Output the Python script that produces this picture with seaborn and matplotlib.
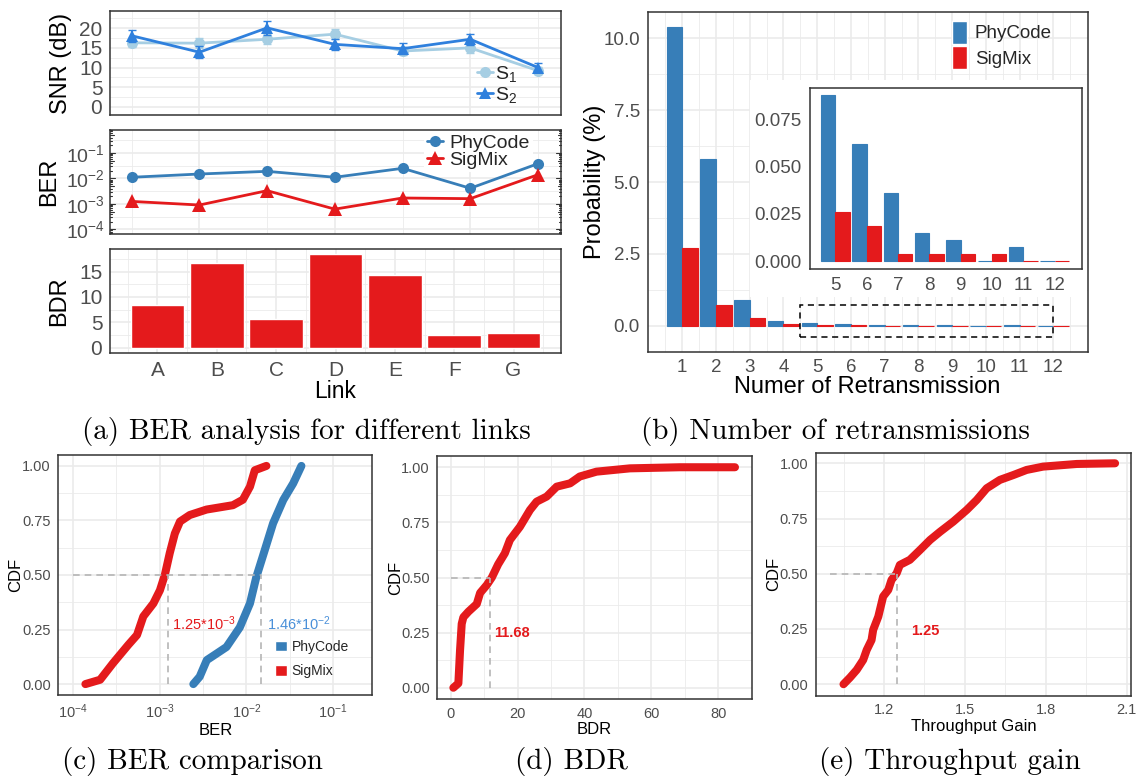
import numpy as np
import pandas as pd
import matplotlib
matplotlib.use("Agg")
import matplotlib.pyplot as plt
import seaborn as sns
from matplotlib.patches import Patch, Rectangle
from matplotlib.lines import Line2D
from matplotlib.ticker import FixedLocator, FormatStrFormatter, NullFormatter

# ---------------- data ----------------
links = ["A", "B", "C", "D", "E", "F", "G"]
snr_s1 = [16.3, 16.2, 17.2, 18.5, 14.2, 15.0, 9.2]
snr_s1_err = [1.2, 1.2, 1.3, 1.2, 1.0, 1.3, 0.9]
snr_s2 = [18.1, 13.9, 20.1, 15.9, 14.8, 17.2, 10.0]
snr_s2_err = [1.5, 1.5, 1.7, 1.4, 1.4, 1.4, 1.2]
ber_link_phycode = [0.0111, 0.0149, 0.019, 0.0111, 0.025, 0.0041, 0.038]
ber_link_sigmix = [0.00125, 0.0009, 0.0033, 0.00062, 0.0017, 0.0016, 0.014]
bdr_link = [8.4, 16.7, 5.7, 18.5, 14.3, 2.5, 2.9]

retrans = [1, 2, 3, 4, 5, 6, 7, 8, 9, 10, 11, 12]
prob_phycode = [10.39, 5.79, 0.89, 0.17, 0.088, 0.062, 0.036, 0.015, 0.011, 0.0, 0.0075, 0.0]
prob_sigmix = [2.70, 0.72, 0.28, 0.06, 0.026, 0.0185, 0.0037, 0.0037, 0.0037, 0.0037, 0.0, 0.0]

ber_sigmix_x = [1.4e-4, 2.07e-4, 2.9e-4, 4.37e-4, 5.5e-4, 6.5e-4, 8.5e-4, 1.01e-3, 1.15e-3,
                1.31e-3, 1.5e-3, 1.72e-3, 2.23e-3, 3.48e-3, 7.0e-3, 9.1e-3, 1.1e-2, 1.25e-2, 1.7e-2]
ber_sigmix_cdf = [0.0, 0.02, 0.095, 0.18, 0.225, 0.31, 0.37, 0.43, 0.5,
                  0.6, 0.69, 0.745, 0.775, 0.8, 0.82, 0.845, 0.905, 0.98, 1.0]
ber_phycode_x = [2.45e-3, 2.9e-3, 3.5e-3, 4.55e-3, 5.9e-3, 8.4e-3, 1.1e-2, 1.3e-2, 1.63e-2,
                 2.03e-2, 2.66e-2, 3.46e-2, 4.3e-2]
ber_phycode_cdf = [0.0, 0.034, 0.11, 0.14, 0.17, 0.26, 0.37, 0.49, 0.615, 0.737, 0.844, 0.92, 1.0]
ber_medians = [1.46e-2, 1.25e-3]          # PhyCode, SigMix

bdr_x = [0.8, 2.3, 2.8, 3.3, 3.8, 5.3, 7.8, 8.8, 10.8, 12.3, 14.2, 16.2, 17.7, 20.7, 23.7,
         25.7, 28.7, 31.7, 35.7, 38.6, 43.6, 53.6, 68.5, 85.0]
bdr_cdf = [0.0, 0.02, 0.17, 0.29, 0.32, 0.345, 0.38, 0.43, 0.466, 0.50, 0.56, 0.61, 0.67, 0.73,
           0.806, 0.844, 0.867, 0.912, 0.927, 0.958, 0.98, 0.995, 1.0, 1.0]
bdr_median = 11.68

gain_x = [1.05, 1.074, 1.099, 1.123, 1.136, 1.154, 1.16, 1.179, 1.197, 1.216, 1.228, 1.247,
          1.259, 1.296, 1.334, 1.371, 1.408, 1.457, 1.507, 1.544, 1.581, 1.63, 1.68, 1.729,
          1.79, 1.915, 2.057]
gain_cdf = [0.0, 0.03, 0.065, 0.11, 0.155, 0.2, 0.246, 0.306, 0.397, 0.427, 0.472, 0.502,
            0.54, 0.563, 0.608, 0.653, 0.69, 0.736, 0.789, 0.834, 0.887, 0.925, 0.947, 0.97,
            0.985, 0.997, 1.0]
gain_median = 1.25

# ---------------- style ----------------
sns.set_style("white")
plt.rcParams["font.family"] = ["Liberation Sans", "DejaVu Sans"]
plt.rcParams["mathtext.fontset"] = "custom"
plt.rcParams["mathtext.rm"] = "Liberation Sans"
plt.rcParams["mathtext.it"] = "Liberation Sans:italic"
plt.rcParams["mathtext.bf"] = "Liberation Sans:bold"

BLUE = "#377eb8"
RED = "#e41a1c"
S1C = "#a6cee3"
S2C = "#2f80dd"
GRID = "#ebebeb"
GUIDE = "#b5b5b5"

W, H = 1140, 779
fig = plt.figure(figsize=(W / 100, H / 100), dpi=100)


def px_axes(l, t, r, b, **kw):
    return fig.add_axes([l / W, 1 - b / H, (r - l) / W, (b - t) / H], **kw)


def gg(ax, tsize, grid=True):
    ax.set_facecolor("white")
    for s in ax.spines.values():
        s.set_visible(True)
        s.set_color("#333333")
        s.set_linewidth(1.1)
    ax.tick_params(which="major", length=3.5, width=0.9, color="#333333",
                   labelcolor="#4d4d4d", labelsize=tsize, pad=2)
    ax.tick_params(which="minor", length=0)
    if grid:
        ax.grid(True, which="major", color=GRID, lw=1.2)
        ax.grid(True, which="minor", color=GRID, lw=0.6)
    else:
        ax.grid(False)
    ax.set_axisbelow(True)


xi = np.arange(1, len(links) + 1)

# ================= (a) SNR =================
ax1 = px_axes(110, 11, 561, 115)
sns.lineplot(x=xi, y=snr_s1, color=S1C, lw=2, marker="o", markersize=8,
             markeredgewidth=0, ax=ax1)
ax1.errorbar(xi, snr_s1, yerr=snr_s1_err, fmt="none", ecolor=S1C, elinewidth=1.5, capsize=3)
sns.lineplot(x=xi, y=snr_s2, color=S2C, lw=2, marker="^", markersize=9,
             markeredgewidth=0, ax=ax1)
ax1.errorbar(xi, snr_s2, yerr=snr_s2_err, fmt="none", ecolor=S2C, elinewidth=1.5, capsize=3)
gg(ax1, 15)
ax1.set_xlim(0.68, 7.34)
ax1.set_ylim(-2.1, 24.4)
ax1.xaxis.set_major_locator(FixedLocator([2, 4, 6]))
ax1.xaxis.set_minor_locator(FixedLocator([1, 3, 5, 7]))
ax1.yaxis.set_major_locator(FixedLocator([0, 5, 10, 15, 20]))
ax1.yaxis.set_minor_locator(FixedLocator([2.5, 7.5, 12.5, 17.5, 22.5]))
ax1.tick_params(labelbottom=False)
ax1.set_xlabel("")
ax1.set_ylabel("SNR (dB)", fontsize=17, color="black")
ax1.yaxis.set_label_coords(-0.085, 0.5)
h1 = [Line2D([], [], color=S1C, marker="o", lw=2, ms=8, mew=0),
      Line2D([], [], color=S2C, marker="^", lw=2, ms=9, mew=0)]
ax1.legend(h1, ["S$_1$", "S$_2$"], loc="upper left", bbox_to_anchor=(477 / W, 1 - 64 / H),
           bbox_transform=fig.transFigure, frameon=False, fontsize=14, handlelength=0.8,
           handletextpad=0.15, labelspacing=0.05, borderpad=0, borderaxespad=0)

# ================= (a) BER =================
ax2 = px_axes(110, 130, 561, 234)
sns.lineplot(x=xi, y=ber_link_phycode, color=BLUE, lw=2, marker="o", markersize=8,
             markeredgewidth=0, ax=ax2)
sns.lineplot(x=xi, y=ber_link_sigmix, color=RED, lw=2, marker="^", markersize=9.5,
             markeredgewidth=0, ax=ax2)
ax2.set_yscale("log")
gg(ax2, 14)
ax2.set_xlim(0.68, 7.34)
ax2.set_ylim(10 ** -4.185, 10 ** -0.096)
ax2.xaxis.set_major_locator(FixedLocator([2, 4, 6]))
ax2.xaxis.set_minor_locator(FixedLocator([1, 3, 5, 7]))
ax2.yaxis.set_major_locator(FixedLocator([1e-4, 1e-3, 1e-2, 1e-1]))
ax2.yaxis.set_minor_locator(FixedLocator([10 ** -3.5, 10 ** -2.5, 10 ** -1.5, 10 ** -0.5]))
ax2.yaxis.set_minor_formatter(NullFormatter())
ax2.tick_params(labelbottom=False)
ax2.tick_params(axis="y", pad=0)
ax2.set_xlabel("")
ax2.set_ylabel("BER", fontsize=17, color="black")
ax2.yaxis.set_label_coords(-0.111, 0.5)
tr = ax2.get_yaxis_transform()
for k in range(-5, 1):
    for m in range(1, 10):
        yv = m * 10.0 ** k
        if not (10 ** -4.185 < yv < 10 ** -0.096):
            continue
        L = (5.0 if m == 1 else (3.5 if m == 5 else 2.2)) / 451
        ax2.plot([0, L], [yv, yv], transform=tr, color="#333333", lw=0.8, clip_on=False)
        ax2.plot([1 - L, 1], [yv, yv], transform=tr, color="#333333", lw=0.8, clip_on=False)
h2 = [Line2D([], [], color=BLUE, marker="o", lw=2, ms=8, mew=0),
      Line2D([], [], color=RED, marker="^", lw=2, ms=9.5, mew=0)]
leg2 = ax2.legend(h2, ["PhyCode", "SigMix"], loc="upper left",
                  bbox_to_anchor=(424 / W, 1 - 131 / H), bbox_transform=fig.transFigure,
                  frameon=True, fontsize=14, handlelength=0.85, handletextpad=0.3,
                  labelspacing=0.0, borderpad=0.15, borderaxespad=0, fancybox=False)
leg2.get_frame().set_facecolor("white")
leg2.get_frame().set_edgecolor("none")
leg2.get_frame().set_alpha(1)
leg2.set_zorder(1.8)

# ================= (a) BDR =================
ax3 = px_axes(110, 249, 561, 353)
sns.barplot(x=links, y=bdr_link, color=RED, saturation=1, width=0.9, errorbar=None, ax=ax3)
gg(ax3, 15)
ax3.set_xlim(-0.8, 6.8)
ax3.set_ylim(-1.05, 19.47)
ax3.xaxis.set_minor_locator(FixedLocator(np.arange(-0.5, 7, 1)))
ax3.yaxis.set_major_locator(FixedLocator([0, 5, 10, 15]))
ax3.yaxis.set_minor_locator(FixedLocator([2.5, 7.5, 12.5, 17.5]))
ax3.set_xlabel("Link", fontsize=16.5, color="black", labelpad=0)
ax3.set_ylabel("BDR", fontsize=17, color="black")
ax3.yaxis.set_label_coords(-0.089, 0.5)

# ================= (b) retransmissions =================
df_b = pd.DataFrame({
    "retrans": retrans * 2,
    "prob": prob_phycode + prob_sigmix,
    "method": ["PhyCode"] * len(retrans) + ["SigMix"] * len(retrans),
})
pal = {"PhyCode": BLUE, "SigMix": RED}
axb = px_axes(647.5, 11.7, 1087.5, 351.7)
sns.barplot(data=df_b, x="retrans", y="prob", hue="method", hue_order=["PhyCode", "SigMix"],
            palette=pal, saturation=1, width=0.92, errorbar=None, legend=False, ax=axb)
for p in axb.patches:
    p.set_edgecolor(p.get_facecolor())
    p.set_linewidth(0.8)
gg(axb, 13.5)
axb.set_xlim(-1.03, 12.01)
axb.set_ylim(-0.905, 10.93)
axb.xaxis.set_minor_locator(FixedLocator(np.arange(-0.5, 12, 1)))
axb.yaxis.set_major_locator(FixedLocator([0, 2.5, 5, 7.5, 10]))
axb.yaxis.set_major_formatter(FormatStrFormatter("%.1f"))
axb.yaxis.set_minor_locator(FixedLocator([1.25, 3.75, 6.25, 8.75]))
axb.set_xlabel("Numer of Retransmission", fontsize=17, color="black", labelpad=0)
axb.set_ylabel("Probability (%)", fontsize=17, color="black")
axb.yaxis.set_label_coords(-0.094, 0.5)
axb.add_patch(Rectangle((3.5, -0.40), 7.5, 1.11, fill=False, ls=(0, (4, 3)), lw=1.1,
                        ec="black", zorder=3))
axb.add_patch(Rectangle((749.6 / W, 1 - 297 / H), (1087 - 749.6) / W, (297 - 80) / H,
                        transform=fig.transFigure, facecolor="white", edgecolor="none",
                        zorder=1.5, clip_on=False))

df_i = df_b[df_b["retrans"] >= 5]
axi = px_axes(809.5, 87.7, 1081.8, 269)
sns.barplot(data=df_i, x="retrans", y="prob", hue="method", hue_order=["PhyCode", "SigMix"],
            palette=pal, saturation=1, width=0.92, errorbar=None, legend=False, ax=axi)
for p in axi.patches:
    p.set_edgecolor(p.get_facecolor())
    p.set_linewidth(0.8)
gg(axi, 13.5, grid=False)
axi.set_xlim(-0.83, 7.87)
axi.set_ylim(-0.0042, 0.0917)
axi.yaxis.set_major_locator(FixedLocator([0, 0.025, 0.05, 0.075]))
axi.yaxis.set_major_formatter(FormatStrFormatter("%.3f"))
axi.set_xlabel("")
axi.set_ylabel("")

fig.legend([Patch(facecolor=BLUE), Patch(facecolor=RED)], ["PhyCode", "SigMix"],
           loc="upper left", bbox_to_anchor=(951.5 / W, 1 - 20.7 / H),
           bbox_transform=fig.transFigure, frameon=False, fontsize=13.5, handlelength=0.8,
           handleheight=1.5, labelspacing=0.15, handletextpad=0.45, borderpad=0,
           borderaxespad=0)

# ================= (c) BER CDF =================
TS = 10.5
axc = px_axes(58.3, 455, 372.3, 695)
sns.lineplot(x=ber_phycode_x, y=ber_phycode_cdf, sort=False, color=BLUE, lw=5.8, ax=axc)
sns.lineplot(x=ber_sigmix_x, y=ber_sigmix_cdf, sort=False, color=RED, lw=5.8, ax=axc)
axc.set_xscale("log")
gg(axc, TS)
axc.set_xlim(10 ** -4.166, 10 ** -0.55)
axc.set_ylim(-0.05, 1.05)
axc.xaxis.set_major_locator(FixedLocator([1e-4, 1e-3, 1e-2, 1e-1]))
axc.xaxis.set_minor_locator(FixedLocator([10 ** -3.5, 10 ** -2.5, 10 ** -1.5, 10 ** -0.5]))
axc.xaxis.set_minor_formatter(NullFormatter())
axc.yaxis.set_major_locator(FixedLocator([0, 0.25, 0.5, 0.75, 1.0]))
axc.yaxis.set_major_formatter(FormatStrFormatter("%.2f"))
axc.yaxis.set_minor_locator(FixedLocator([0.125, 0.375, 0.625, 0.875]))
axc.plot([1e-4, max(ber_medians)], [0.5, 0.5], ls=(0, (4, 3)), color=GUIDE, lw=1.2)
for mv in ber_medians:
    axc.plot([mv, mv], [0, 0.5], ls=(0, (4, 3)), color=GUIDE, lw=1.2)
axc.text(1.38e-3, 0.278, r"1.25*10$^{-3}$", color=RED, fontsize=10.5, va="center")
axc.text(1.71e-2, 0.278, r"1.46*10$^{-2}$", color="#4a90d9", fontsize=10.5, va="center")
axc.set_xlabel("BER", fontsize=12, color="black", labelpad=1)
axc.set_ylabel("CDF", fontsize=12, color="black")
axc.yaxis.set_label_coords(-0.111, 0.5)
axc.legend([Patch(facecolor=BLUE), Patch(facecolor=RED)], ["PhyCode", "SigMix"],
           loc="upper left", bbox_to_anchor=(275 / W, 1 - 640 / H),
           bbox_transform=fig.transFigure, frameon=False, fontsize=10, handlelength=0.85,
           handleheight=0.75, labelspacing=0.75, handletextpad=0.35, borderpad=0,
           borderaxespad=0)

# ================= (d) BDR CDF =================
axd = px_axes(437.3, 456, 751.7, 699)
sns.lineplot(x=bdr_x, y=bdr_cdf, sort=False, color=RED, lw=5.8, ax=axd)
gg(axd, TS)
axd.set_xlim(-4.0, 90.0)
axd.set_ylim(-0.051, 1.051)
axd.xaxis.set_major_locator(FixedLocator([0, 20, 40, 60, 80]))
axd.xaxis.set_minor_locator(FixedLocator([10, 30, 50, 70]))
axd.yaxis.set_major_locator(FixedLocator([0, 0.25, 0.5, 0.75, 1.0]))
axd.yaxis.set_major_formatter(FormatStrFormatter("%.2f"))
axd.yaxis.set_minor_locator(FixedLocator([0.125, 0.375, 0.625, 0.875]))
axd.plot([0, bdr_median], [0.5, 0.5], ls=(0, (4, 3)), color=GUIDE, lw=1.2)
axd.plot([bdr_median, bdr_median], [0, 0.5], ls=(0, (4, 3)), color=GUIDE, lw=1.2)
axd.text(12.9, 0.25, "11.68", color=RED, fontsize=10.5, fontweight="bold", va="center")
axd.set_xlabel("BDR", fontsize=12, color="black", labelpad=1)
axd.set_ylabel("CDF", fontsize=12, color="black")
axd.yaxis.set_label_coords(-0.108, 0.5)

# ================= (e) Throughput gain CDF =================
axe = px_axes(816, 452.7, 1130.7, 695.7)
sns.lineplot(x=gain_x, y=gain_cdf, sort=False, color=RED, lw=5.8, ax=axe)
gg(axe, TS)
axe.set_xlim(0.948, 2.115)
axe.set_ylim(-0.052, 1.048)
axe.xaxis.set_major_locator(FixedLocator([1.2, 1.5, 1.8, 2.1]))
axe.xaxis.set_major_formatter(FormatStrFormatter("%.1f"))
axe.xaxis.set_minor_locator(FixedLocator([1.05, 1.35, 1.65, 1.95]))
axe.yaxis.set_major_locator(FixedLocator([0, 0.25, 0.5, 0.75, 1.0]))
axe.yaxis.set_major_formatter(FormatStrFormatter("%.2f"))
axe.yaxis.set_minor_locator(FixedLocator([0.125, 0.375, 0.625, 0.875]))
axe.plot([1.0, gain_median], [0.5, 0.5], ls=(0, (4, 3)), color=GUIDE, lw=1.2)
axe.plot([gain_median, gain_median], [0, 0.5], ls=(0, (4, 3)), color=GUIDE, lw=1.2)
axe.text(1.299, 0.24, "1.25", color=RED, fontsize=10.5, fontweight="bold", va="center")
axe.set_xlabel("Throughput Gain", fontsize=12, color="black", labelpad=1)
axe.set_ylabel("CDF", fontsize=12, color="black")
axe.yaxis.set_label_coords(-0.112, 0.5)

# ================= captions =================
cap_kw = dict(fontfamily="cmr10", fontsize=21, ha="center", va="center", color="black")
fig.text(306 / W, 1 - 431 / H, "(a) BER analysis for different links", **cap_kw)
fig.text(835 / W, 1 - 431 / H, "(b) Number of retransmissions", **cap_kw)
fig.text(192 / W, 1 - 762 / H, "(c) BER comparison", **cap_kw)
fig.text(571 / W, 1 - 762 / H, "(d) BDR", **cap_kw)
fig.text(950 / W, 1 - 762 / H, "(e) Throughput gain", **cap_kw)

fig.savefig("out.png", dpi=100)
